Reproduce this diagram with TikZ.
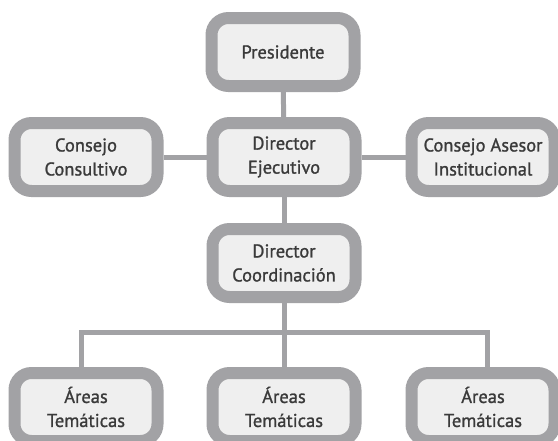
\documentclass[tikz,border=0pt]{standalone}
\usepackage{fontspec}
\setmainfont{PT Sans}[FakeBold=1.2]
\usetikzlibrary{backgrounds}
\definecolor{bordergray}{HTML}{A2A2A5}
\definecolor{boxfill}{HTML}{EFEFEF}
\definecolor{txt}{HTML}{3A3A3A}
\tikzset{
  orgbox/.style={draw=bordergray, line width=12pt, fill=boxfill, rounded corners=17pt,
    minimum width=143pt, minimum height=68pt, inner sep=0pt, align=center,
    text=txt, font=\fontsize{18.5}{24}\selectfont},
  link/.style={draw=bordergray, line width=5pt}
}
\begin{document}
\begin{tikzpicture}[x=1pt,y=-1pt]
\useasboundingbox (0,0) rectangle (558,440);
\node[orgbox] (pres) at (283,52) {Presidente};
\node[orgbox] (cc) at (86,157) {Consejo\\Consultivo};
\node[orgbox] (de) at (284,157) {Director\\Ejecutivo};
\node[orgbox] (cai) at (483,157) {Consejo Asesor\\Institucional};
\node[orgbox] (dc) at (284,263) {Director\\Coordinación};
\node[orgbox] (a1) at (86,407) {Áreas\\Temáticas};
\node[orgbox] (a2) at (284,407) {Áreas\\Temáticas};
\node[orgbox] (a3) at (483,407) {Áreas\\Temáticas};
\coordinate (j1) at (81,332);
\coordinate (j2) at (284,332);
\coordinate (j3) at (487,332);
\begin{scope}[on background layer]
\fill[white] (0,0) rectangle (558,440);
\draw[link] (pres) -- (de);
\draw[link] (cc) -- (de);
\draw[link] (de) -- (cai);
\draw[link] (de) -- (dc);
\draw[link] (dc) -- (j2);
\draw[link, line cap=rect] (j1) -- (j3);
\draw[link] (j1) -- (j1 |- a1.north);
\draw[link] (j2) -- (a2);
\draw[link] (j3) -- (j3 |- a3.north);
\end{scope}
\end{tikzpicture}
\end{document}
